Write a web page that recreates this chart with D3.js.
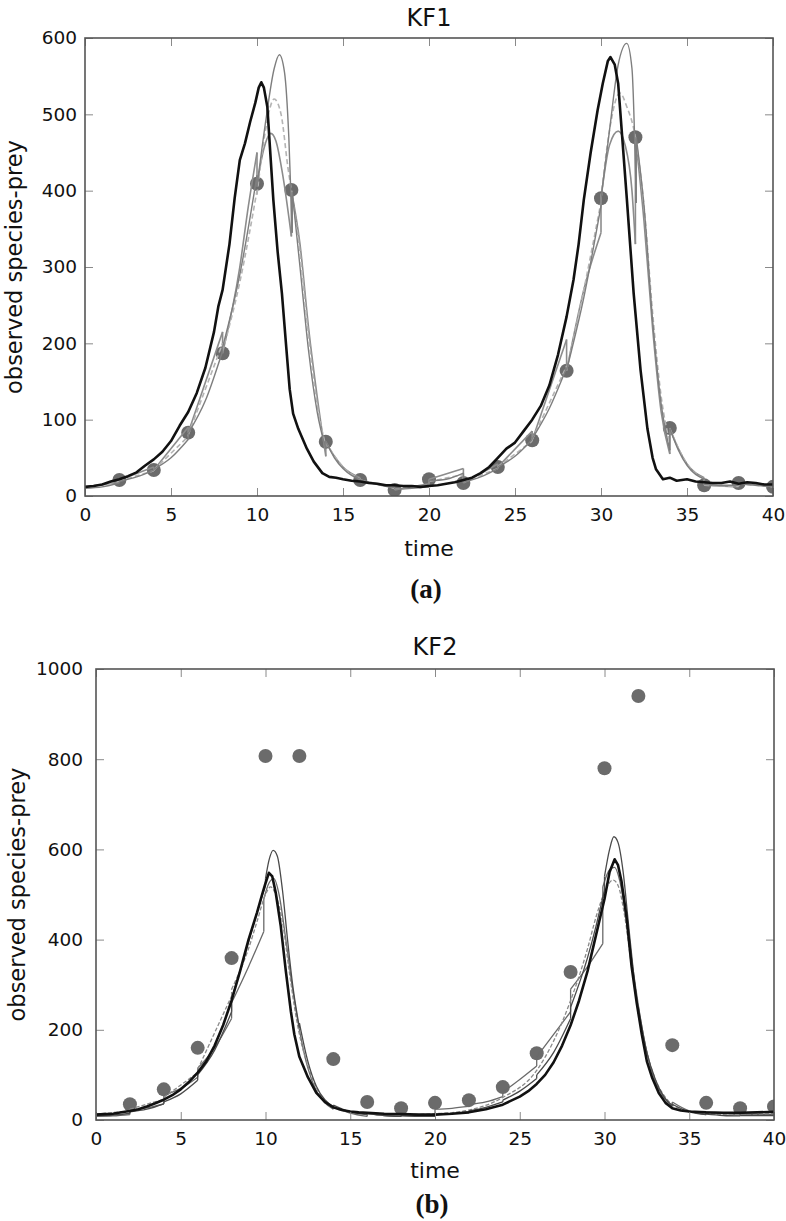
<!DOCTYPE html>
<html>
<head>
<meta charset="utf-8">
<script src="https://cdn.jsdelivr.net/npm/d3@7"></script>
<style>
  body { margin: 0; background: #fff; }
  text { font-family: "DejaVu Sans", sans-serif; fill: #111; }
</style>
</head>
<body>
<svg id="chart" width="786" height="1221"></svg>
<script>
// ---- data: [time, prey count] ----
const xTicks = [0, 5, 10, 15, 20, 25, 30, 35, 40];
const yTicksA = [0, 100, 200, 300, 400, 500, 600];
const yTicksB = [0, 200, 400, 600, 800, 1000];

const kf1Obs = [[2,21],[4,34],[6,83],[8,187],[10,409],[12,401],[14,71],[16,21],[18,8],[20,22],
  [22,17],[24,38],[26,73],[28,164],[30,390],[32,470],[34,89],[36,14],[38,17],[40,12]];

const kf1Truth = [[0,12],[0.5,13],[1,15],[1.5,19],[2,22],[2.5,26],[3,31],[3.5,40],[4,48],[4.5,58],
  [5,72],[5.5,92],[6,110],[6.5,135],[7,168],[7.5,215],[7.75,248],[8,270],[8.4,330],[8.7,390],
  [9,440],[9.3,462],[9.6,490],[9.9,515],[10.1,535],[10.25,542],[10.4,535],[10.6,510],[10.8,440],
  [10.95,388],[11.2,320],[11.45,265],[11.7,195],[11.9,140],[12.1,108],[12.4,88],[12.9,62],[13.3,45],
  [13.8,30],[14.2,25],[14.6,24],[15,22],[15.5,20],[16,19],[16.5,17],[17,16],[17.5,14],[18,14],
  [18.5,13],[19,13],[19.5,12],[20,13],[20.5,14],[21,16],[21.5,18],[22,21],[22.5,24],[23,30],
  [23.5,38],[24,50],[24.5,62],[25,70],[25.5,85],[26,100],[26.5,118],[27,145],[27.5,185],[28,235],
  [28.4,283],[28.7,330],[29,388],[29.4,450],[29.8,505],[30.1,540],[30.4,570],[30.55,575],[30.8,565],
  [31,540],[31.2,480],[31.5,390],[31.9,265],[32.3,165],[32.7,88],[33,50],[33.2,35],[33.6,22],
  [34,24],[34.4,20],[35,22],[35.5,19],[36,18],[36.5,17],[37,17],[37.5,19],[38,16],[38.5,18],
  [39,17],[39.5,15],[40,15]];

const kf1EstA = [[0,10],[1,12],[2,17],[2,19],[3,25],[4,34],[4,35],[5,50],[6,74],[6,82],[7,125],
  [8,190],[8,195],[9,290],[10,420],[10,405],[10.5,490],[11,560],[11.3,578],[11.6,555],[11.85,470],
  [12.05,345],[12.05,398],[12.5,300],[13,190],[13.5,110],[14,62],[14,72],[14.5,50],[15,36],
  [15.5,27],[16,22],[16,21],[17,15],[18,11],[18,9],[19,10],[20,12],[20,20],[21,22],[22,30],
  [22,18],[23,25],[24,36],[24,38],[25,52],[26,74],[26,75],[27,115],[28,168],[28,165],[29,260],
  [30,380],[30,390],[30.5,480],[31,565],[31.5,593],[31.8,560],[32.05,384],[32.05,470],
  [32.5,380],[33,230],[33.5,120],[34,60],[34,88],[34.5,60],[35,40],[36,22],[36,15],[37,14],
  [38,14],[38,16],[39,14],[40,12]];

const kf1EstB = [[0,11],[2,19],[2,20],[4,33],[4,34],[6,78],[6,80],[8,200],[8,190],[9,280],[10,400],
  [10,395],[10.5,480],[11,520],[11.4,500],[11.8,430],[12,400],[12.5,320],[13,210],[13.5,120],
  [14,65],[14,70],[15,38],[16,22],[16,21],[18,10],[18,9],[20,13],[20,19],[22,28],[22,18],[24,36],
  [24,38],[26,72],[26,74],[28,170],[28,165],[29,270],[30,385],[30,390],[30.5,480],[31.1,528],
  [31.5,510],[32,470],[32.5,380],[33,240],[33.5,130],[34,70],[34,88],[35,42],[36,22],[36,14],
  [38,13],[38,16],[40,12]];

const kf1EstC = [[0,12],[2,18],[2,21],[4,38],[4,34],[6,90],[6,83],[8,215],[8,187],[9,300],
  [9.5,380],[10,450],[10,409],[10.4,455],[10.8,475],[11.1,465],[11.5,420],[12,340],[12,400],
  [12.5,330],[13,220],[13.5,130],[14,52],[14,71],[14.5,52],[15,38],[16,24],[16,21],[18,11],
  [18,8],[20,16],[20,22],[22,36],[22,17],[24,42],[24,38],[26,85],[26,73],[28,205],[28,164],
  [29,270],[30,345],[30,390],[30.5,460],[31,478],[31.4,460],[31.8,400],[32,330],[32,470],
  [32.5,360],[33,220],[33.5,110],[34,55],[34,89],[34.5,62],[35,42],[36,24],[36,14],[38,12],
  [38,17],[40,13]];

const kf2Obs = [[2,35],[4,68],[6,160],[8,359],[10,807],[12,807],[14,135],[16,40],[18,26],[20,38],
  [22,44],[24,73],[26,148],[28,328],[30,780],[32,940],[34,166],[36,38],[38,26],[40,30]];

const kf2Truth = [[0,12],[0.5,13],[1,14],[1.5,17],[2,20],[2.5,24],[3,30],[3.5,37],[4,45],[4.5,55],
  [5,68],[5.5,85],[6,105],[6.5,130],[7,165],[7.5,210],[8,265],[8.5,330],[9,400],[9.5,460],[9.8,500],
  [10,525],[10.2,548],[10.4,540],[10.6,505],[10.9,430],[11.2,330],[11.5,240],[11.7,190],[12,140],
  [12.5,95],[13,60],[13.5,40],[14,28],[14.5,22],[15,19],[15.5,17],[16,16],[17,14],[18,13],[19,12],
  [20,12],[21,14],[22,17],[23,24],[24,34],[25,52],[25.5,64],[26,80],[26.5,100],[27,128],[27.5,165],
  [28,210],[28.5,265],[29,330],[29.5,410],[30,490],[30.3,550],[30.6,578],[30.8,565],[31,530],
  [31.3,450],[31.6,340],[31.9,260],[32.2,190],[32.5,130],[32.8,95],[33.2,60],[33.6,38],[34,26],
  [34.5,21],[35,19],[36,17],[37,16],[38,16],[39,17],[40,18]];

const kf2EstA = [[0,10],[1,11],[2,15],[2,18],[3,24],[4,36],[4,40],[5,58],[6,88],[6,100],[7,155],
  [8,240],[8,270],[8.5,330],[9,395],[9.5,460],[10,520],[10,535],[10.2,575],[10.45,598],[10.7,585],
  [11,510],[11.3,400],[11.6,300],[12,205],[12,215],[12.5,130],[13,75],[13.5,45],[14,30],[14,33],
  [15,18],[16,12],[16,14],[17,10],[18,8],[18,9],[19,8],[20,8],[20,12],[21,14],[22,18],[22,20],
  [23,28],[24,40],[24,44],[25,64],[26,92],[26,100],[27,150],[28,225],[28,250],[29,360],[29.5,430],
  [30,510],[30,540],[30.3,600],[30.55,628],[30.8,615],[31.1,550],[31.4,440],[31.7,330],[32,235],
  [32,250],[32.5,150],[33,90],[33.5,52],[34,32],[34,35],[35,18],[36,12],[36,13],[37,10],[38,9],
  [38,10],[39,10],[40,10]];

const kf2EstB = [[0,13],[2,20],[2,24],[4,46],[4,50],[6,105],[6,112],[8,275],[8,290],[9,380],
  [9.5,440],[10,500],[10.3,517],[10.6,500],[11,440],[11.4,330],[11.8,230],[12,190],[12.5,120],
  [13,72],[13.5,42],[14,28],[15,18],[16,14],[18,12],[20,14],[22,22],[24,50],[26,110],[28,265],
  [29,380],[29.5,450],[30,505],[30.5,532],[30.8,520],[31.2,450],[31.6,340],[32,240],[32.5,150],
  [33,90],[33.5,55],[34,34],[35,20],[36,14],[38,12],[40,14]];

const kf2EstC = [[0,8],[1,9],[2,12],[2,22],[3,27],[4,36],[4,55],[5,70],[6,95],[6,115],[7,160],
  [8,225],[8,260],[9,340],[9.9,418],[9.9,490],[10.2,525],[10.5,535],[10.8,500],[11.2,400],
  [11.6,290],[12,200],[12.5,115],[13,65],[13.5,38],[14,24],[14,30],[15,15],[16,8],[16,14],[17,10],
  [18,8],[18,12],[19,10],[20,9],[20,24],[21,26],[22,30],[22,34],[23,40],[24,52],[24,62],[25,90],
  [26,120],[26,140],[27,190],[28,240],[28,290],[29,340],[29.9,391],[29.9,517],[30.3,555],
  [30.6,560],[30.9,530],[31.3,440],[31.7,330],[32.1,230],[32.5,150],[33,85],[33.5,50],[34,30],
  [34,40],[35,20],[36,12],[36,18],[37,14],[38,12],[38,14],[39,12],[40,12]];

// ---- layout ----
const svg = d3.select('#chart');

const panels = [
  { id: 'a', title: 'KF1', letter: '(a)', left: 85, top: 38, right: 773, bottom: 496,
    yMax: 600, yTicks: yTicksA, yPad: 8, yLabelX: 22, titleY: 26, timeY: 556, letterY: 598,
    obs: kf1Obs, truth: kf1Truth,
    ests: [
      { data: kf1EstC, color: '#8c8c8c', width: 1.6, dash: null },
      { data: kf1EstB, color: '#b4b4b4', width: 1.6, dash: '5,3' },
      { data: kf1EstA, color: '#7e7e7e', width: 1.4, dash: null }
    ] },
  { id: 'b', title: 'KF2', letter: '(b)', left: 96, top: 669, right: 774, bottom: 1120,
    yMax: 1000, yTicks: yTicksB, yPad: 13, yLabelX: 25, titleY: 655, timeY: 1178, letterY: 1213,
    obs: kf2Obs, truth: kf2Truth,
    ests: [
      { data: kf2EstC, color: '#6a6a6a', width: 1.3, dash: null },
      { data: kf2EstB, color: '#8a8a8a', width: 1.3, dash: '4,2' },
      { data: kf2EstA, color: '#4a4a4a', width: 1.3, dash: null }
    ] }
];

panels.forEach(drawPanel);

// split a filter trace at its update jumps (two points at the same time)
function splitAtJumps(pts) {
  let segs = [[pts[0]]], jumps = [];
  for (let i = 1; i < pts.length; i++) {
    if (pts[i][0] === pts[i - 1][0]) {
      jumps.push([pts[i - 1], pts[i]]);
      segs.push([pts[i]]);
    } else {
      segs[segs.length - 1].push(pts[i]);
    }
  }
  return { segs, jumps };
}

function drawPanel(p) {
  const w = p.right - p.left, h = p.bottom - p.top;
  const x = d3.scaleLinear().domain([0, 40]).range([p.left, p.right]);
  const y = d3.scaleLinear().domain([0, p.yMax]).range([p.bottom, p.top]);

  svg.append('clipPath').attr('id', 'clip-' + p.id)
    .append('rect').attr('x', p.left).attr('y', p.top).attr('width', w).attr('height', h);

  const plot = svg.append('g').attr('clip-path', 'url(#clip-' + p.id + ')');

  plot.selectAll('circle.obs').data(p.obs).enter().append('circle')
    .attr('class', 'obs')
    .attr('cx', d => x(d[0])).attr('cy', d => y(d[1])).attr('r', 7)
    .attr('fill', '#6b6b6b');

  const smooth = d3.line().x(d => x(d[0])).y(d => y(d[1])).curve(d3.curveMonotoneX);
  const straight = d3.line().x(d => x(d[0])).y(d => y(d[1]));

  p.ests.forEach(e => {
    const parts = splitAtJumps(e.data);
    const g = plot.append('g').attr('fill', 'none')
      .attr('stroke', e.color).attr('stroke-width', e.width)
      .attr('stroke-dasharray', e.dash).attr('stroke-linejoin', 'round');
    g.selectAll('path.seg').data(parts.segs).enter().append('path')
      .attr('class', 'seg').attr('d', smooth);
    g.selectAll('path.jump').data(parts.jumps).enter().append('path')
      .attr('class', 'jump').attr('d', straight);
  });

  plot.append('path').datum(p.truth)
    .attr('d', straight).attr('fill', 'none')
    .attr('stroke', '#111').attr('stroke-width', 2.6)
    .attr('stroke-linejoin', 'round');

  // axes, ticks pointing inward on all four sides
  const fmt = d3.format('d');
  const bottomAx = svg.append('g').attr('transform', `translate(0,${p.bottom})`)
    .call(d3.axisBottom(x).tickValues(xTicks).tickFormat(fmt).tickSizeInner(-8).tickSizeOuter(0).tickPadding(12));
  const topAx = svg.append('g').attr('transform', `translate(0,${p.top})`)
    .call(d3.axisTop(x).tickValues(xTicks).tickSizeInner(-8).tickSizeOuter(0).tickFormat(''));
  const leftAx = svg.append('g').attr('transform', `translate(${p.left},0)`)
    .call(d3.axisLeft(y).tickValues(p.yTicks).tickFormat(fmt).tickSizeInner(-8).tickSizeOuter(0).tickPadding(p.yPad));
  const rightAx = svg.append('g').attr('transform', `translate(${p.right},0)`)
    .call(d3.axisRight(y).tickValues(p.yTicks).tickSizeInner(-8).tickSizeOuter(0).tickFormat(''));

  [bottomAx, topAx, leftAx, rightAx].forEach(g => {
    g.select('.domain').remove();
    g.selectAll('.tick line').attr('stroke', '#8a8a8a').attr('stroke-width', 1);
    g.selectAll('.tick text').style('font-family', '"DejaVu Sans", sans-serif')
      .style('font-size', '18.5px').attr('fill', '#111');
  });

  svg.append('rect').attr('x', p.left).attr('y', p.top).attr('width', w).attr('height', h)
    .attr('fill', 'none').attr('stroke', '#555').attr('stroke-width', 1.6);

  const cx = (p.left + p.right) / 2;
  svg.append('text').attr('x', cx).attr('y', p.titleY).attr('text-anchor', 'middle')
    .style('font-size', '24px').text(p.title);
  svg.append('text').attr('x', cx).attr('y', p.timeY).attr('text-anchor', 'middle')
    .style('font-size', '22px').text('time');
  svg.append('text')
    .attr('transform', `translate(${p.yLabelX},${(p.top + p.bottom) / 2}) rotate(-90)`)
    .attr('text-anchor', 'middle').style('font-size', '22.5px').text('observed species-prey');
  svg.append('text').attr('x', cx - 3).attr('y', p.letterY).attr('text-anchor', 'middle')
    .style('font-family', '"Liberation Serif", serif').style('font-weight', 'bold')
    .style('font-size', '27px').text(p.letter);
}
</script>
</body>
</html>
